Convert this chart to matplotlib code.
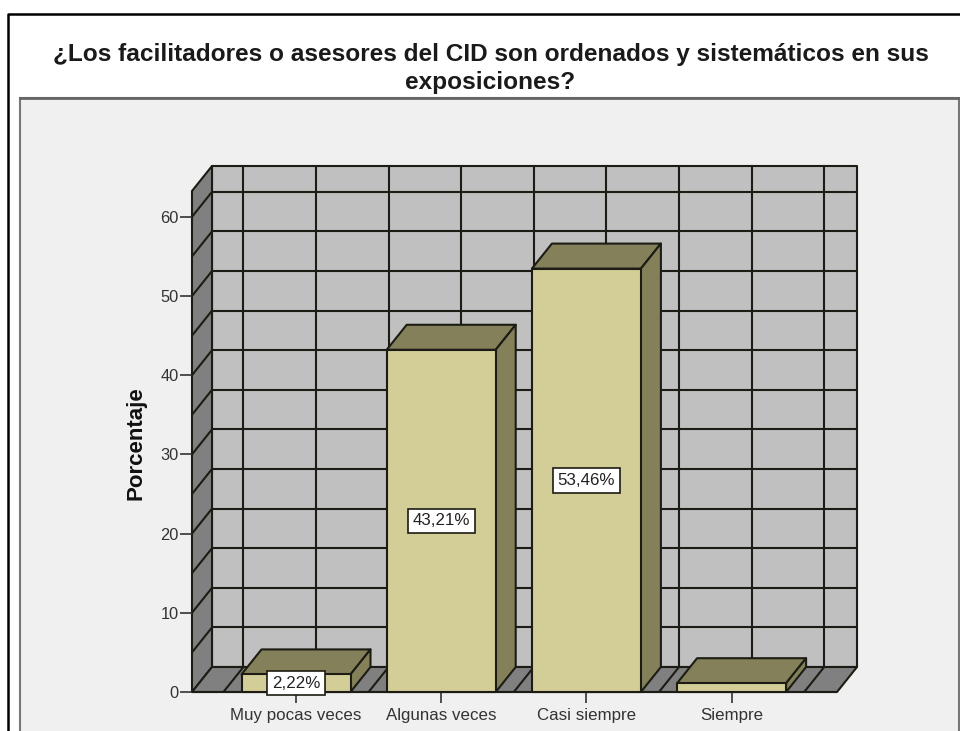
import matplotlib
matplotlib.use("Agg")
import matplotlib.pyplot as plt
from matplotlib.patches import Rectangle
from matplotlib.lines import Line2D

# ---- data ----
categories = ["Muy pocas veces", "Algunas veces", "Casi siempre", "Siempre"]
values = [2.22, 43.21, 53.46, 1.11]
labels = ["2,22%", "43,21%", "53,46%", None]
yticks = [0, 10, 20, 30, 40, 50, 60]
title = "¿Los facilitadores o asesores del CID son ordenados y sistemáticos en sus\nexposiciones?"
ylabel = "Porcentaje"

# ---- style ----
W, H = 960, 731
plt.rcParams["font.family"] = ["Liberation Sans", "DejaVu Sans"]
fig = plt.figure(figsize=(W / 100, H / 100), dpi=100, facecolor="white")
INK = "#1c1c14"
WALL = "#C0C0C0"
SIDE = "#808080"
BAR = "#D3CE97"
BARD = "#84815A"
PANEL = "#F0F0F0"
LW = 1.5


def fx(p):
    return p / W


def fy(p):
    return 1 - p / H


# outer frame + panel in figure space
fig.add_artist(Rectangle((fx(20), -0.01), fx(959 - 20), fy(98) + 0.01, transform=fig.transFigure,
                         facecolor=PANEL, edgecolor="#777777", lw=1.5, zorder=-2))
fig.add_artist(Line2D([fx(20), fx(960)], [fy(98), fy(98)], color="#666666", lw=2.0, zorder=-1))
fig.add_artist(Line2D([fx(8), fx(8), 1.0], [0, fy(14), fy(14)], color="black", lw=1.8, zorder=-1))
fig.text(fx(490.5), fy(68.5), title, ha="center", va="center", fontsize=17.55,
         fontweight="bold", color="#1a1a1a", linespacing=1.28)

# main axes = front plane of the 3D box
L, R, B, T = 192, 837, 692, 191
ax = fig.add_axes([fx(L), fy(B), fx(R - L), (B - T) / H])
ax.patch.set_visible(False)
xpx = 145.2
ypx = 7.92
ax.set_xlim((L - 296) / xpx, (R - 296) / xpx)
ax.set_ylim(0, (B - T) / ypx)
x0, x1 = ax.get_xlim()
y0, y1 = ax.get_ylim()
DX = 20 / xpx
DY = 25 / ypx
BW = 109 / xpx

for s in ax.spines.values():
    s.set_visible(False)

kw = dict(edgecolor=INK, lw=LW, clip_on=False, joinstyle="round")
# walls
ax.fill([x0 + DX, x1 + DX, x1 + DX, x0 + DX], [DY, DY, y1 + DY, y1 + DY], facecolor=WALL, zorder=1, **kw)
ax.fill([x0, x0 + DX, x0 + DX, x0], [0, DY, y1 + DY, y1], facecolor=SIDE, zorder=1, **kw)
ax.fill([x0, x1, x1 + DX, x0 + DX], [0, 0, DY, DY], facecolor=SIDE, zorder=1, **kw)

# grid
gl = dict(color=INK, lw=LW, clip_on=False, zorder=2, solid_capstyle="butt")
v = 5
while v < y1:
    ax.plot([x0 + DX, x1 + DX], [v + DY, v + DY], **gl)
    ax.plot([x0, x0 + DX], [v, v + DY], **gl)
    v += 5
for k in range(len(categories) + 1):
    xb = k - 0.5
    ax.plot([xb, xb + DX], [0, DY], **gl)
    ax.plot([xb + DX, xb + DX], [DY, y1 + DY], **gl)
for k in range(len(categories)):
    ax.plot([k, k + DX], [0, DY], **gl)
    ax.plot([k + DX, k + DX], [DY, y1 + DY], **gl)
ax.plot([x0, x1], [0, 0], **gl)

# 3D bars
for i, val in enumerate(values):
    a, b = i - BW / 2, i + BW / 2
    ax.fill([a, b, b + DX, a + DX], [val, val, val + DY, val + DY], facecolor=BARD, zorder=3, **kw)
    ax.fill([b, b + DX, b + DX, b], [0, DY, val + DY, val], facecolor=BARD, zorder=3, **kw)
    ax.fill([a, b, b, a], [0, 0, val, val], facecolor=BAR, zorder=4, **kw)
    if labels[i]:
        ax.text(i, val / 2, labels[i], ha="center", va="center", fontsize=12.2, color="#222222", zorder=6,
                clip_on=False,
                bbox=dict(boxstyle="square,pad=0.28", facecolor="white", edgecolor=INK, lw=1.2))

# axes ticks
ax.set_xticks(range(len(categories)))
ax.set_xticklabels(categories)
ax.set_yticks(yticks)
ax.tick_params(axis="x", length=8, width=1.2, color="#333333", labelsize=12.2, labelcolor="#333333", pad=3.5)
ax.tick_params(axis="y", length=8.5, width=1.2, color="#333333", labelsize=11.8, labelcolor="#333333", pad=1)
ax.set_ylabel(ylabel, fontsize=16, fontweight="bold", color="#111111")
ax.yaxis.set_label_coords((147 - L) / (R - L), (B - 443) / (B - T))

fig.savefig("out.png", dpi=100)
